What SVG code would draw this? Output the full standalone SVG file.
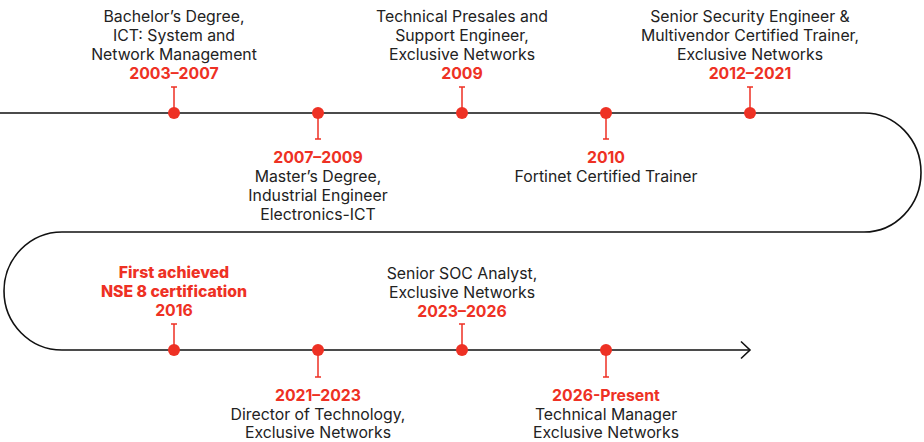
<svg xmlns="http://www.w3.org/2000/svg" width="924" height="442" viewBox="0 0 924 442">
<style>
.t{font-family:Inter,"Liberation Sans",sans-serif;font-size:15.8px;fill:#222;text-anchor:middle}
.y{font-weight:700;fill:#EE3124}
.h{font-weight:800}
.line{fill:none;stroke:#111;stroke-width:1.6}
.tick{stroke:#EE3124;stroke-width:1.5;fill:none}
.dot{fill:#EE3124}
</style>
<g id="connectors">
<path class="line" d="M0 113 H864 A57 59.5 0 0 1 864 232 H62 A58 59 0 0 0 62 350 H750"/>
<path class="line" d="M741 341.5 L750 350 L741 358.5"/>
</g>
<g id="n1">
<path class="tick" d="M174 113 V87 M171 87 H177"/><circle class="dot" cx="174" cy="113" r="6"/>
<text class="t" x="174" y="22">Bachelor’s Degree,</text>
<text class="t" x="174" y="41">ICT: System and</text>
<text class="t" x="174" y="60">Network Management</text>
<text class="t y" x="174" y="79">2003–2007</text>
</g>
<g id="n2">
<path class="tick" d="M318 113 V139 M315 139 H321"/><circle class="dot" cx="318" cy="113" r="6"/>
<text class="t y" x="318" y="163">2007–2009</text>
<text class="t" x="318" y="182">Master’s Degree,</text>
<text class="t" x="318" y="201">Industrial Engineer</text>
<text class="t" x="318" y="220">Electronics-ICT</text>
</g>
<g id="n3">
<path class="tick" d="M462 113 V87 M459 87 H465"/><circle class="dot" cx="462" cy="113" r="6"/>
<text class="t" x="462" y="22">Technical Presales and</text>
<text class="t" x="462" y="41">Support Engineer,</text>
<text class="t" x="462" y="60">Exclusive Networks</text>
<text class="t y" x="462" y="79">2009</text>
</g>
<g id="n4">
<path class="tick" d="M606 113 V139 M603 139 H609"/><circle class="dot" cx="606" cy="113" r="6"/>
<text class="t y" x="606" y="163">2010</text>
<text class="t" x="606" y="182">Fortinet Certified Trainer</text>
</g>
<g id="n5">
<path class="tick" d="M750 113 V87 M747 87 H753"/><circle class="dot" cx="750" cy="113" r="6"/>
<text class="t" x="750" y="22">Senior Security Engineer &amp;</text>
<text class="t" x="750" y="41">Multivendor Certified Trainer,</text>
<text class="t" x="750" y="60">Exclusive Networks</text>
<text class="t y" x="750" y="79">2012–2021</text>
</g>
<g id="n6">
<path class="tick" d="M174 350 V324 M171 324 H177"/><circle class="dot" cx="174" cy="350" r="6"/>
<text class="t y h" x="174" y="278">First achieved</text>
<text class="t y h" x="174" y="297">NSE 8 certification</text>
<text class="t y" x="174" y="316">2016</text>
</g>
<g id="n7">
<path class="tick" d="M318 350 V377 M315 377 H321"/><circle class="dot" cx="318" cy="350" r="6"/>
<text class="t y" x="318" y="401">2021–2023</text>
<text class="t" x="318" y="420">Director of Technology,</text>
<text class="t" x="318" y="438">Exclusive Networks</text>
</g>
<g id="n8">
<path class="tick" d="M462 350 V324 M459 324 H465"/><circle class="dot" cx="462" cy="350" r="6"/>
<text class="t" x="462" y="279">Senior SOC Analyst,</text>
<text class="t" x="462" y="298">Exclusive Networks</text>
<text class="t y" x="462" y="317">2023–2026</text>
</g>
<g id="n9">
<path class="tick" d="M606 350 V377 M603 377 H609"/><circle class="dot" cx="606" cy="350" r="6"/>
<text class="t y" x="606" y="401">2026-Present</text>
<text class="t" x="606" y="420">Technical Manager</text>
<text class="t" x="606" y="438">Exclusive Networks</text>
</g>
</svg>
